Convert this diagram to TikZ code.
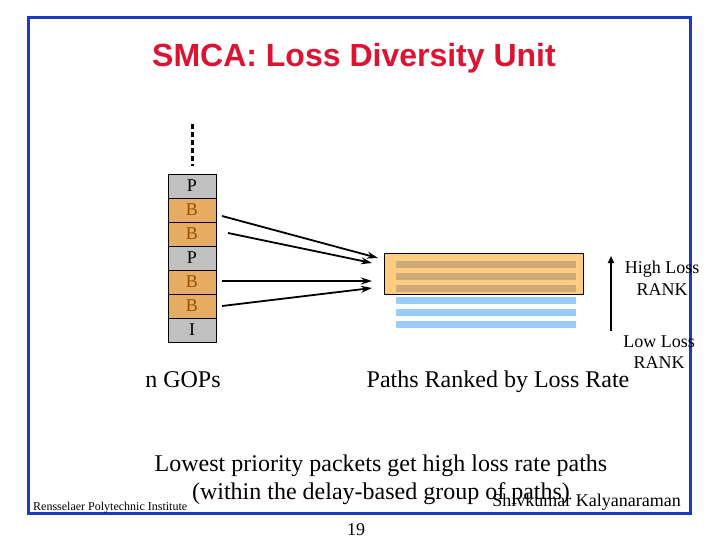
\documentclass[tikz,border=0pt]{standalone}
\usepackage{fontspec}
\setmainfont{Liberation Serif}
\newfontfamily\arialfont{Liberation Sans}
\usetikzlibrary{arrows.meta}
\definecolor{framecol}{RGB}{25,60,190}
\definecolor{titlecol}{RGB}{220,20,50}
\definecolor{graycell}{RGB}{192,192,192}
\definecolor{orangecell}{RGB}{230,172,100}
\definecolor{btext}{RGB}{150,80,0}
\definecolor{boxfill}{RGB}{255,204,128}
\definecolor{tanstripe}{RGB}{205,170,120}
\definecolor{bluestripe}{RGB}{153,204,250}
\tikzset{
  cell/.style={draw=black, line width=0.6pt, minimum width=48pt, minimum height=24pt, inner sep=0pt, font=\fontsize{18}{18}\selectfont},
  gcell/.style={cell, fill=graycell, text=black},
  ocell/.style={cell, fill=orangecell, text=btext},
  flow/.style={line width=1.8pt, -{Stealth[length=11pt,width=7pt]}},
  rank/.style={font=\fontsize{18}{18}\selectfont, anchor=base, inner sep=0pt},
  big/.style={font=\fontsize{24}{24}\selectfont, anchor=base, inner sep=0pt},
}
\begin{document}
\begin{tikzpicture}[x=1pt,y=-1pt]
\useasboundingbox (0,0) rectangle (720,540);
\fill[white] (0,0) rectangle (720,540);
% frame
\draw[framecol, line width=3pt] (28,18) rectangle (690,513);
% title
\node[anchor=base, inner sep=0pt, text=titlecol, font=\arialfont\bfseries\fontsize{32}{32}\selectfont] (title) at (354,67) {SMCA: Loss Diversity Unit};
% dotted line
\draw[line width=3pt, dash pattern=on 5pt off 3pt] (192,124) -- (192,166);
% stack
\node[gcell] (c1) at (192,186) {P};
\node[ocell] (c2) at (192,210) {B};
\node[ocell] (c3) at (192,234) {B};
\node[gcell] (c4) at (192,258) {P};
\node[ocell] (c5) at (192,282) {B};
\node[ocell] (c6) at (192,306) {B};
\node[gcell] (c7) at (192,330) {I};
% paths box
\node[draw=black, line width=0.8pt, fill=boxfill, minimum width=199pt, minimum height=41pt, inner sep=0pt, anchor=north west] (box) at (384,253) {};
\foreach \y in {261,273,285} \fill[tanstripe] (396,\y) rectangle (576,\y+7);
\foreach \y in {297,309,321} \fill[bluestripe] (396,\y) rectangle (576,\y+7);
% arrows
\coordinate (s1) at (222,216); \coordinate (e1) at (378,258);
\coordinate (s2) at (228,233); \coordinate (e2) at (372,263);
\coordinate (s3) at (222,281); \coordinate (e3) at (372,281);
\coordinate (s4) at (222,306); \coordinate (e4) at (372,288);
\draw[flow] (s1) -- (e1);
\draw[flow] (s2) -- (e2);
\draw[flow] (s3) -- (e3);
\draw[flow] (s4) -- (e4);
% rank arrow
\coordinate (rlow) at (611,331); \coordinate (rhigh) at (611,256);
\draw[line width=1.8pt, -{Triangle[length=7pt,width=6pt]}] (rlow) -- (rhigh);
\node[rank] (hl) at (662,273) {High Loss};
\node[rank] (hr) at (662,295) {RANK};
\node[rank] (ll) at (659,347) {Low Loss};
\node[rank] (lr) at (659,368) {RANK};
% labels
\node[big] (gops) at (183,387) {n GOPs};
\node[big] (paths) at (498,387) {Paths Ranked by Loss Rate};
\node[big] (low1) at (381,471) {Lowest priority packets get high loss rate paths};
\node[big] (low2) at (381,499) {(within the delay-based group of paths)};
\node[anchor=base west, inner sep=0pt, font=\fontsize{12}{12}\selectfont] (rpi) at (33,510) {Rensselaer Polytechnic Institute};
\node[anchor=base east, inner sep=0pt, font=\fontsize{18}{18}\selectfont] (sk) at (681,506) {Shivkumar Kalyanaraman};
\node[anchor=base, inner sep=0pt, font=\fontsize{18}{18}\selectfont] (num) at (356,535) {19};
\end{tikzpicture}
\end{document}
